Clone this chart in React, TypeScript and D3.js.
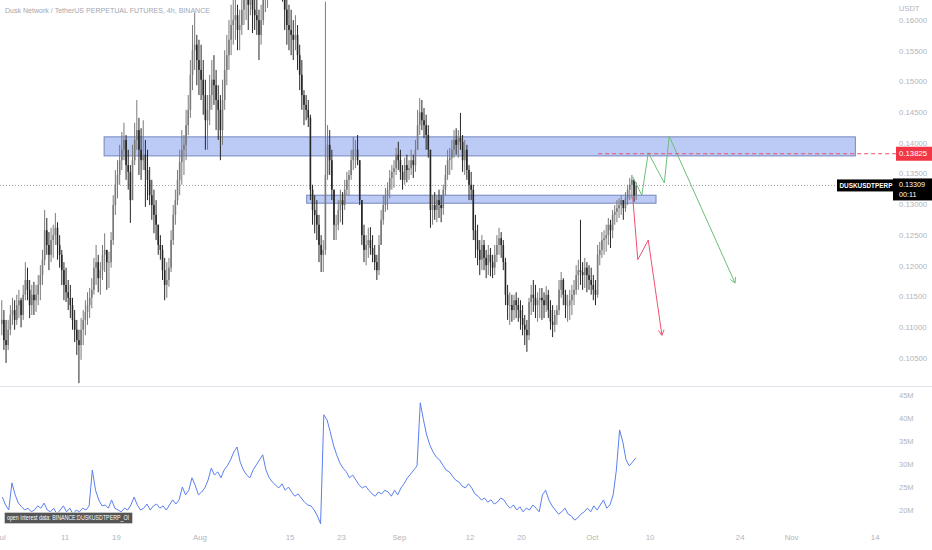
import React, { useEffect } from "react";
import * as d3 from "d3";

const W = 932;
const H = 550;

// ---------- data ----------
const startDate = Date.UTC(2022, 6, 1); // Jul 1
const endDate = Date.UTC(2022, 10, 14); // Nov 14
const HOUR = 3600 * 1000;
const BAR_HOURS = 8;
const OI_HOURS = 12;
const firstOpen = 0.1105;
const lastPrice = 0.13309;
const alertPrice = 0.13825;

// [high, low, close] per 8h bar, one row per day (Jul 1 .. Oct 7)
const bars: [number, number, number][] = [
  [0.1144, 0.1087, 0.1112], [0.1128, 0.1063, 0.1079], [0.1112, 0.1042, 0.1071],
  [0.1112, 0.1063, 0.1096], [0.1136, 0.1087, 0.112], [0.1148, 0.1104, 0.1128],
  [0.1144, 0.1096, 0.1112], [0.1153, 0.1104, 0.1136], [0.1161, 0.1115, 0.1144],
  [0.1148, 0.11, 0.112], [0.1169, 0.1112, 0.1153], [0.1206, 0.1144, 0.1177],
  [0.1197, 0.1144, 0.1161], [0.1177, 0.1115, 0.1136], [0.1169, 0.112, 0.1153],
  [0.1174, 0.112, 0.1144], [0.1169, 0.1125, 0.1153], [0.1185, 0.1136, 0.1169],
  [0.1201, 0.1144, 0.1185], [0.1226, 0.1169, 0.121], [0.1291, 0.1201, 0.1258],
  [0.1278, 0.1218, 0.1234], [0.1255, 0.1193, 0.1218], [0.1262, 0.1206, 0.1242],
  [0.1267, 0.1213, 0.125], [0.1286, 0.1234, 0.1262], [0.1271, 0.121, 0.1234],
  [0.125, 0.1197, 0.1218], [0.1226, 0.1169, 0.1193], [0.1206, 0.1144, 0.1169],
  [0.1197, 0.1141, 0.1157], [0.1177, 0.1128, 0.1148], [0.1169, 0.1115, 0.1136],
  [0.1148, 0.1096, 0.1112], [0.1128, 0.1076, 0.1096], [0.1112, 0.1055, 0.1079],
  [0.1096, 0.1009, 0.1071], [0.1115, 0.1047, 0.1096], [0.1128, 0.1071, 0.1112],
  [0.1144, 0.1087, 0.1125], [0.1157, 0.1104, 0.1136], [0.1164, 0.1115, 0.1148],
  [0.118, 0.1131, 0.1161], [0.1213, 0.1153, 0.1197], [0.1234, 0.1169, 0.1206],
  [0.1218, 0.1157, 0.118], [0.1206, 0.1153, 0.1193], [0.1234, 0.1177, 0.1218],
  [0.1253, 0.119, 0.1226], [0.1226, 0.1161, 0.1206], [0.1223, 0.1164, 0.1206],
  [0.1255, 0.1197, 0.1242], [0.1315, 0.1234, 0.1299], [0.1356, 0.1283, 0.1332],
  [0.1372, 0.131, 0.1348], [0.1397, 0.1332, 0.1372], [0.1418, 0.1356, 0.1389],
  [0.1433, 0.1372, 0.1405], [0.1413, 0.134, 0.1364], [0.1389, 0.1324, 0.1353],
  [0.1364, 0.127, 0.1307], [0.1397, 0.1307, 0.1372], [0.1433, 0.1364, 0.1405],
  [0.147, 0.1389, 0.1421], [0.1441, 0.1348, 0.1389], [0.1424, 0.134, 0.1372],
  [0.1437, 0.1356, 0.1381], [0.1405, 0.1296, 0.1356], [0.1389, 0.1307, 0.134],
  [0.1361, 0.1299, 0.1315], [0.134, 0.1275, 0.1299], [0.1324, 0.1253, 0.1283],
  [0.1307, 0.1242, 0.1267], [0.1267, 0.1218, 0.1234], [0.125, 0.121, 0.1226],
  [0.1234, 0.1177, 0.1193], [0.1213, 0.1144, 0.1169], [0.1206, 0.1148, 0.1177],
  [0.1213, 0.1166, 0.1197], [0.1258, 0.119, 0.1242], [0.1299, 0.1234, 0.1283],
  [0.1324, 0.1267, 0.1307], [0.1356, 0.1299, 0.134], [0.1389, 0.1315, 0.1369],
  [0.1421, 0.1332, 0.1389], [0.1413, 0.1348, 0.1397], [0.1454, 0.1372, 0.1429],
  [0.1478, 0.1413, 0.1454], [0.1535, 0.1441, 0.1511], [0.1592, 0.1486, 0.1551],
  [0.1612, 0.1519, 0.156], [0.1576, 0.1494, 0.1535], [0.1568, 0.1478, 0.1519],
  [0.156, 0.147, 0.1503], [0.1535, 0.1446, 0.1478], [0.1503, 0.1389, 0.1437],
  [0.1478, 0.1389, 0.1454], [0.1511, 0.1429, 0.1478], [0.1535, 0.1454, 0.1503],
  [0.1543, 0.1462, 0.1494], [0.1519, 0.1421, 0.147], [0.1494, 0.1405, 0.1454],
  [0.1478, 0.1372, 0.1421], [0.1503, 0.1397, 0.147], [0.1551, 0.1454, 0.1519],
  [0.1576, 0.1494, 0.1543], [0.16, 0.1519, 0.1568], [0.1625, 0.1543, 0.1592],
  [0.1649, 0.156, 0.16], [0.1633, 0.1568, 0.1608], [0.1625, 0.1551, 0.1584],
  [0.1617, 0.1551, 0.1592], [0.1641, 0.1576, 0.1617], [0.1657, 0.1592, 0.1633],
  [0.1665, 0.16, 0.1641], [0.1649, 0.1584, 0.1625], [0.1674, 0.1608, 0.1649],
  [0.1657, 0.1579, 0.1617], [0.1641, 0.1584, 0.1608], [0.1633, 0.1576, 0.16],
  [0.1617, 0.1535, 0.1576], [0.1625, 0.156, 0.16], [0.1649, 0.1592, 0.1633],
  [0.1665, 0.1613, 0.1641], [0.1674, 0.162, 0.1657], [0.169, 0.1641, 0.1665],
  [0.1706, 0.1649, 0.1674], [0.1698, 0.1641, 0.1665], [0.1714, 0.1657, 0.1682],
  [0.1698, 0.1646, 0.1665], [0.169, 0.1638, 0.1657], [0.1682, 0.163, 0.1649],
  [0.1665, 0.1584, 0.1617], [0.1649, 0.156, 0.1592], [0.1625, 0.1551, 0.1584],
  [0.1617, 0.1543, 0.1576], [0.16, 0.1535, 0.1568], [0.1608, 0.1551, 0.1576],
  [0.1592, 0.1519, 0.1543], [0.156, 0.1486, 0.1511], [0.1535, 0.1454, 0.1478],
  [0.1486, 0.1429, 0.1462], [0.1478, 0.1437, 0.1454], [0.147, 0.1426, 0.1441],
  [0.1446, 0.1307, 0.1324], [0.1332, 0.1267, 0.1291], [0.1315, 0.1253, 0.1283],
  [0.1307, 0.1242, 0.1267], [0.1283, 0.1206, 0.1234], [0.125, 0.119, 0.1218],
  [0.1242, 0.119, 0.1226], [0.163, 0.1218, 0.1348], [0.1429, 0.134, 0.1397],
  [0.1421, 0.1348, 0.1372], [0.1389, 0.1307, 0.1324], [0.1324, 0.1242, 0.1267],
  [0.1283, 0.1242, 0.1267], [0.1307, 0.1258, 0.1291], [0.1324, 0.1271, 0.1307],
  [0.132, 0.1267, 0.1299], [0.134, 0.1291, 0.1324], [0.1353, 0.1315, 0.134],
  [0.1356, 0.1315, 0.1348], [0.1389, 0.134, 0.1372], [0.141, 0.1356, 0.1389],
  [0.1405, 0.1359, 0.1389], [0.1413, 0.1364, 0.1372], [0.1372, 0.1299, 0.1307],
  [0.1307, 0.1234, 0.125], [0.1267, 0.1206, 0.1226], [0.125, 0.1201, 0.1234],
  [0.1262, 0.1213, 0.1242], [0.1263, 0.1218, 0.1229], [0.125, 0.1206, 0.1218],
  [0.1234, 0.1193, 0.1206], [0.1218, 0.1177, 0.1193], [0.125, 0.1185, 0.1234],
  [0.1291, 0.1234, 0.1275], [0.1315, 0.1267, 0.1299], [0.1327, 0.1288, 0.1315],
  [0.1336, 0.1291, 0.1324], [0.1356, 0.131, 0.1343], [0.1364, 0.1324, 0.1353],
  [0.1372, 0.1327, 0.1359], [0.1392, 0.1348, 0.1381], [0.1402, 0.1356, 0.1372],
  [0.1389, 0.134, 0.1353], [0.1364, 0.1324, 0.134], [0.1376, 0.1332, 0.1364],
  [0.1381, 0.1336, 0.1356], [0.1372, 0.134, 0.1359], [0.1389, 0.1348, 0.1372],
  [0.1381, 0.1343, 0.1364], [0.1405, 0.1353, 0.1389], [0.1454, 0.1389, 0.1429],
  [0.1473, 0.1413, 0.145], [0.147, 0.1421, 0.1437], [0.1457, 0.1408, 0.1429],
  [0.1446, 0.1389, 0.1413], [0.1429, 0.1376, 0.1389], [0.1389, 0.1262, 0.1291],
  [0.1315, 0.1267, 0.1299], [0.132, 0.1275, 0.1291], [0.1315, 0.1271, 0.1307],
  [0.1324, 0.1278, 0.1299], [0.1315, 0.1271, 0.1294], [0.1332, 0.1283, 0.1324],
  [0.1364, 0.1315, 0.1348], [0.1389, 0.134, 0.1372], [0.1392, 0.1348, 0.1376],
  [0.1405, 0.1356, 0.1389], [0.1421, 0.1376, 0.1405], [0.1424, 0.1381, 0.1397],
  [0.1421, 0.1376, 0.1408], [0.1449, 0.1389, 0.1402], [0.1413, 0.1353, 0.1372],
  [0.1405, 0.1348, 0.1389], [0.1397, 0.134, 0.1356], [0.1364, 0.1307, 0.1332],
  [0.1353, 0.1307, 0.1324], [0.1332, 0.1242, 0.1258], [0.1283, 0.1213, 0.1242],
  [0.1267, 0.1201, 0.1226], [0.1242, 0.1185, 0.121], [0.125, 0.1193, 0.1234],
  [0.1242, 0.1193, 0.1213], [0.1226, 0.118, 0.1201], [0.1234, 0.1185, 0.1218],
  [0.1229, 0.1183, 0.1206], [0.1218, 0.118, 0.1197], [0.1234, 0.1185, 0.1218],
  [0.125, 0.1206, 0.1234], [0.1262, 0.1218, 0.1245], [0.1255, 0.1213, 0.1234],
  [0.1242, 0.1193, 0.1206], [0.1213, 0.1136, 0.1153], [0.1169, 0.1112, 0.1136],
  [0.1157, 0.1104, 0.1136], [0.1153, 0.1109, 0.1128], [0.1153, 0.1112, 0.1144],
  [0.1157, 0.1115, 0.1136], [0.1148, 0.1109, 0.1128], [0.1144, 0.1096, 0.1115],
  [0.1136, 0.1087, 0.1104], [0.112, 0.1071, 0.1096], [0.1112, 0.106, 0.1087],
  [0.1148, 0.1079, 0.1141], [0.1169, 0.112, 0.1153], [0.1177, 0.1125, 0.1148],
  [0.1169, 0.1115, 0.1136], [0.1157, 0.1109, 0.1144], [0.1164, 0.1115, 0.1148],
  [0.1164, 0.1112, 0.1144], [0.1157, 0.1115, 0.1136], [0.1167, 0.1125, 0.1153],
  [0.1161, 0.1115, 0.1128], [0.1144, 0.1096, 0.1109], [0.1136, 0.1084, 0.1104],
  [0.1128, 0.1092, 0.112], [0.1136, 0.1104, 0.1128], [0.1177, 0.112, 0.1161],
  [0.119, 0.1148, 0.1177], [0.118, 0.1136, 0.1153], [0.1161, 0.1115, 0.1136],
  [0.1153, 0.1109, 0.1136], [0.1161, 0.1112, 0.1144], [0.1169, 0.112, 0.1153],
  [0.1177, 0.1136, 0.1161], [0.1201, 0.1153, 0.1185], [0.121, 0.1161, 0.1193],
  [0.1275, 0.1169, 0.119], [0.1206, 0.1161, 0.1185], [0.1213, 0.1164, 0.1197],
  [0.1206, 0.1157, 0.1185], [0.1201, 0.1161, 0.1177], [0.1197, 0.1153, 0.1169],
  [0.1185, 0.1144, 0.1161], [0.1177, 0.1136, 0.1153], [0.1234, 0.1148, 0.1218],
  [0.1239, 0.1201, 0.1226], [0.1255, 0.1213, 0.1242], [0.1258, 0.1218, 0.1245],
  [0.1267, 0.1223, 0.125], [0.1278, 0.1234, 0.1267], [0.1275, 0.1229, 0.1258],
  [0.1291, 0.1245, 0.1283], [0.1299, 0.1267, 0.1288], [0.1307, 0.1271, 0.1294],
  [0.131, 0.1278, 0.1299], [0.1315, 0.1283, 0.1307], [0.1307, 0.1275, 0.1294],
  [0.132, 0.1288, 0.131], [0.1332, 0.1299, 0.1324], [0.1343, 0.1307, 0.1332],
  [0.1348, 0.131, 0.134], [0.134, 0.1304, 0.1315], [0.1336, 0.1307, 0.13309],
];

// open interest in millions, 12h samples (Jul 1 .. Oct 7)
const openInterest: number[] = [
  22.8, 21.1, 20.0, 25.9, 23.3, 21.5, 20.7, 20.0, 20.4, 19.6,
  20.0, 20.9, 20.4, 21.5, 20.0, 19.6, 20.4, 19.1, 20.0, 20.9,
  19.6, 20.4, 19.1, 20.0, 19.6, 20.4, 20.0, 20.9, 28.7, 24.3,
  22.2, 20.9, 21.1, 20.4, 22.2, 20.4, 20.0, 19.6, 20.4, 20.0,
  21.1, 22.8, 21.1, 20.0, 20.4, 21.3, 20.0, 20.9, 21.3, 20.4,
  20.9, 20.0, 21.1, 22.2, 21.3, 22.2, 25.0, 23.3, 24.3, 27.0,
  25.4, 23.3, 23.9, 24.8, 26.5, 29.1, 27.6, 28.3, 27.0, 28.7,
  29.6, 30.9, 32.6, 33.7, 30.4, 28.7, 27.6, 27.0, 28.7, 29.8,
  30.9, 32.0, 28.7, 27.0, 26.1, 25.4, 24.8, 25.7, 24.3, 25.0,
  23.9, 23.0, 23.5, 22.6, 21.7, 21.1, 20.9, 20.0, 18.7, 17.0,
  40.7, 39.6, 37.0, 34.1, 32.0, 30.2, 29.1, 28.3, 27.0, 27.6,
  26.5, 25.4, 24.8, 25.2, 24.3, 23.5, 23.0, 23.9, 23.5, 24.3,
  23.9, 23.0, 24.3, 23.3, 24.8, 25.7, 27.0, 27.8, 28.7, 29.6,
  43.3, 39.6, 36.3, 34.1, 32.6, 31.5, 30.9, 29.8, 28.7, 28.3,
  27.4, 26.5, 26.1, 25.2, 24.8, 25.7, 24.8, 23.5, 23.0, 22.2,
  22.6, 21.7, 22.2, 21.3, 21.7, 22.6, 22.2, 21.1, 20.4, 21.1,
  20.0, 20.7, 19.6, 20.4, 20.0, 21.1, 20.4, 19.6, 23.3, 24.3,
  22.2, 20.9, 20.0, 19.1, 19.6, 20.4, 19.1, 18.7, 17.8, 18.3,
  19.1, 19.6, 20.4, 19.6, 20.9, 20.0, 21.1, 22.2, 20.4, 21.1,
  23.3, 28.7, 37.4, 34.8, 30.9, 29.6, 30.4, 31.3,
];

const dateTicks: [string, string][] = [
  ["2022-07-01", "Jul"], ["2022-07-11", "11"], ["2022-07-19", "19"],
  ["2022-08-01", "Aug"], ["2022-08-15", "15"], ["2022-08-23", "23"],
  ["2022-09-01", "Sep"], ["2022-09-12", "12"], ["2022-09-20", "20"],
  ["2022-10-01", "Oct"], ["2022-10-10", "10"], ["2022-10-24", "24"],
  ["2022-11-01", "Nov"], ["2022-11-14", "14"],
];
const priceTicks = [0.105, 0.11, 0.115, 0.12, 0.125, 0.13, 0.135, 0.14, 0.145, 0.15, 0.155, 0.16];
const oiTicks = [20, 25, 30, 35, 40, 45];

// zones: [from, to, top price, bottom price]
const upperZone: [string, string, number, number] = ["2022-07-17T02:00Z", "2022-11-10T22:00Z", 0.141, 0.1379];
const lowerZone: [string, string, number, number] = ["2022-08-17T14:00Z", "2022-10-10T22:00Z", 0.1315, 0.1302];
const alertStart = "2022-10-01T22:00Z";

const bearPath: [string, number][] = [
  ["2022-10-07T07:00Z", 0.1312], ["2022-10-08T02:00Z", 0.121],
  ["2022-10-09T17:00Z", 0.1242], ["2022-10-11T20:00Z", 0.1087],
];
const bullPath: [string, number][] = [
  ["2022-10-07T07:00Z", 0.1345], ["2022-10-08T17:00Z", 0.1315],
  ["2022-10-09T17:00Z", 0.1384], ["2022-10-12T05:00Z", 0.1335],
  ["2022-10-12T23:00Z", 0.1411], ["2022-10-23T05:00Z", 0.1172],
];

const TITLE = "Dusk Network / TetherUS PERPETUAL FUTURES, 4h, BINANCE";
const OI_LABEL = "open interest data: BINANCE:DUSKUSDTPERP_OI";

// ---------- layout ----------
const MAIN_BOTTOM = 386;
const OI_TOP = 387;
const OI_BOTTOM = 526;
const AXIS_X = 899;
const FONT = "'Liberation Sans', Arial, sans-serif";
const AXIS_COLOR = "#b2b5be";

const x = d3.scaleUtc().domain([startDate, endDate]).range([0.7, 0.7 + 136 * 6.43]);
const y = d3.scaleLinear().domain([0.105, 0.14]).range([358, 143]);
const yOI = d3.scaleLinear().domain([20, 45]).range([510, 395]);

const t = (s: string) => new Date(s).getTime();

function arrowHead(pts: [number, number][]) {
  const [x1, y1] = pts[pts.length - 2];
  const [x2, y2] = pts[pts.length - 1];
  const a = Math.atan2(y2 - y1, x2 - x1);
  const L = 6;
  const s = 0.5;
  const p1 = [x2 - L * Math.cos(a - s), y2 - L * Math.sin(a - s)];
  const p2 = [x2 - L * Math.cos(a + s), y2 - L * Math.sin(a + s)];
  return `M${p1[0]},${p1[1]}L${x2},${y2}L${p2[0]},${p2[1]}`;
}

export default function App() {
  useEffect(() => {
    document.body.style.margin = "0";
  }, []);

  const fmt = d3.format(".5f");

  const candles = bars.map((b, i) => {
    const o = i === 0 ? firstOpen : bars[i - 1][2];
    const [hRaw, lRaw, c] = b;
    const h = Math.max(hRaw, o, c);
    const l = Math.min(lRaw, o, c);
    const time = startDate + (i * BAR_HOURS + BAR_HOURS / 2) * HOUR;
    return { o, h, l, c, time };
  });

  const oiLine = d3
    .line<number>()
    .x((_, j) => x(startDate + (j * OI_HOURS + OI_HOURS / 2) * HOUR))
    .y((v) => yOI(v))(openInterest) as string;

  const toPts = (p: [string, number][]) => p.map(([d, v]) => [x(t(d)), y(v)] as [number, number]);
  const bearPts = toPts(bearPath);
  const bullPts = toPts(bullPath);
  const lineGen = d3.line();

  const zoneRect = (z: [string, string, number, number]) => ({
    x: x(t(z[0])),
    w: x(t(z[1])) - x(t(z[0])),
    y: y(z[2]),
    h: y(z[3]) - y(z[2]),
  });
  const uz = zoneRect(upperZone);
  const lz = zoneRect(lowerZone);

  const yLast = y(lastPrice);
  const yAlert = y(alertPrice);

  return (
    <svg
      width={W}
      height={H}
      viewBox={`0 0 ${W} ${H}`}
      style={{ position: "absolute", left: 0, top: 0, background: "#fff", fontFamily: FONT }}
    >
      <defs>
        <clipPath id="mainClip">
          <rect x={0} y={0} width={890} height={MAIN_BOTTOM} />
        </clipPath>
        <clipPath id="oiClip">
          <rect x={0} y={OI_TOP} width={890} height={OI_BOTTOM - OI_TOP} />
        </clipPath>
      </defs>
      <rect x={0} y={0} width={W} height={H} fill="#ffffff" />

      {/* pane separator */}
      <line x1={0} x2={W} y1={MAIN_BOTTOM + 0.5} y2={MAIN_BOTTOM + 0.5} stroke="#e0e3eb" />

      <g clipPath="url(#mainClip)">
        {/* zones */}
        <rect x={uz.x} y={uz.y} width={uz.w} height={uz.h} fill="#bccaf6" stroke="#7486bd" strokeWidth={1} />
        <rect x={lz.x} y={lz.y} width={lz.w} height={lz.h} fill="#bccaf6" stroke="#7486bd" strokeWidth={1} />

        {/* last price dotted line */}
        <line x1={0} x2={837} y1={yLast} y2={yLast} stroke="#8a8a8a" strokeWidth={0.8} strokeDasharray="1,2" />

        {/* candles */}
        {candles.map((d, i) => {
          const up = d.c >= d.o;
          const col = up ? "#7a7a7a" : "#262626";
          const cx = x(d.time);
          const yt = y(Math.max(d.o, d.c));
          const yb = y(Math.min(d.o, d.c));
          return (
            <g key={i}>
              <line x1={cx} x2={cx} y1={y(d.h)} y2={y(d.l)} stroke={col} strokeWidth={1} />
              <rect x={cx - 0.8} y={yt} width={1.6} height={Math.max(0.8, yb - yt)} fill={col} />
            </g>
          );
        })}

        {/* projections */}
        <path d={lineGen(bullPts) as string} fill="none" stroke="#6cbf78" strokeWidth={1} />
        <path d={arrowHead(bullPts)} fill="none" stroke="#6cbf78" strokeWidth={1} />
        <path d={lineGen(bearPts) as string} fill="none" stroke="#f0506e" strokeWidth={1} />
        <path d={arrowHead(bearPts)} fill="none" stroke="#f0506e" strokeWidth={1} />
      </g>

      {/* alert dashed line */}
      <line x1={x(t(alertStart))} x2={896} y1={yAlert} y2={yAlert} stroke="#e5506e" strokeWidth={1} strokeDasharray="4,3" />

      {/* title */}
      <text x={5} y={13} fontSize={8} fill="#a3a6af" textLength={205} lengthAdjust="spacingAndGlyphs">
        {TITLE}
      </text>

      {/* price axis */}
      <text x={AXIS_X} y={11} fontSize={7.5} fill={AXIS_COLOR}>USDT</text>
      {priceTicks.map((p) => (
        <text key={p} x={AXIS_X} y={y(p)} dy="0.35em" fontSize={7.8} fill={AXIS_COLOR}>
          {fmt(p)}
        </text>
      ))}

      {/* alert label */}
      <rect x={896} y={yAlert - 7} width={36} height={14} fill="#f23645" />
      <text x={AXIS_X} y={yAlert} dy="0.35em" fontSize={7.8} fill="#fff">{fmt(alertPrice)}</text>

      {/* last price labels */}
      <rect x={837} y={yLast - 6} width={56} height={12} fill="#000" />
      <text x={839.5} y={yLast} dy="0.35em" fontSize={6.4} fontWeight={600} fill="#fff">
        DUSKUSDTPERP
      </text>
      <rect x={893} y={yLast - 7} width={39} height={22} fill="#000" />
      <text x={AXIS_X} y={yLast - 0.5} dy="0.35em" fontSize={7.2} fill="#fff">{fmt(lastPrice)}</text>
      <text x={AXIS_X} y={yLast + 9.5} dy="0.35em" fontSize={7.2} fill="#fff">00:11</text>

      {/* open interest pane */}
      <g clipPath="url(#oiClip)">
        <path d={oiLine} fill="none" stroke="#5b7ff0" strokeWidth={1} />
      </g>
      {oiTicks.map((v) => (
        <text key={v} x={AXIS_X} y={yOI(v)} dy="0.35em" fontSize={7.5} fill={AXIS_COLOR}>
          {v}M
        </text>
      ))}
      <rect x={4.5} y={512.5} width={128} height={11} fill="#555555" stroke="#dddddd" strokeWidth={0.6} rx={1} />
      <text x={7} y={518} dy="0.35em" fontSize={6.8} fill="#ffffff" textLength={122} lengthAdjust="spacingAndGlyphs">
        {OI_LABEL}
      </text>

      {/* date axis */}
      {dateTicks.map(([d, label]) => (
        <text key={d} x={x(t(d + "T00:00Z"))} y={537} dy="0.35em" textAnchor="middle" fontSize={7.8} fill={AXIS_COLOR}>
          {label}
        </text>
      ))}
    </svg>
  );
}
